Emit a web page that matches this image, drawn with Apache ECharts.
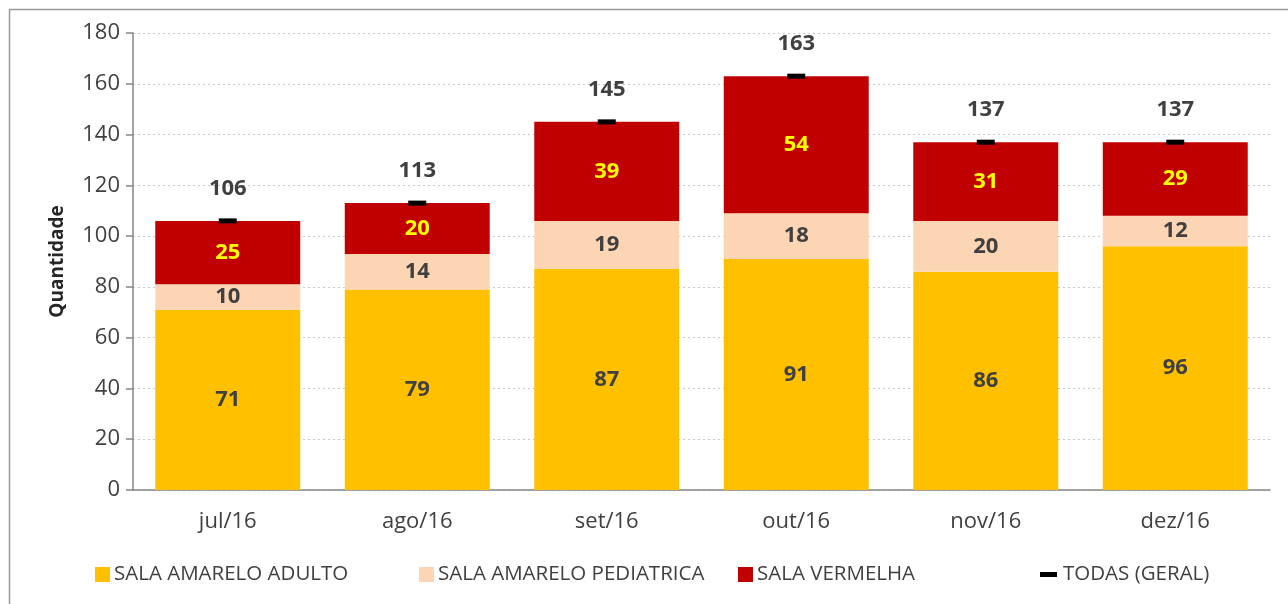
<!DOCTYPE html>
<html>
<head>
<meta charset="utf-8">
<script src="https://cdn.jsdelivr.net/npm/echarts@6/dist/echarts.min.js"></script>
<style>html,body{margin:0;padding:0;background:#fff}#c{width:1288px;height:604px}</style>
</head>
<body>
<div id="c"></div>
<script>
const categories = ['jul/16','ago/16','set/16','out/16','nov/16','dez/16'];
const adulto = [71,79,87,91,86,96];
const pediatrica = [10,14,19,18,20,12];
const vermelha = [25,20,39,54,31,29];
const geral = [106,113,145,163,137,137];
const seriesNames = ['SALA AMARELO ADULTO','SALA AMARELO PEDIATRICA','SALA VERMELHA','TODAS (GERAL)'];

const FONT = '"Open Sans", "Noto Sans", sans-serif';
const TXT = '#404040';
const FS = 22;
const chart = echarts.init(document.getElementById('c'));
const legendBase = {
  top: 559, itemWidth: 15, itemHeight: 15, itemGap: 6,
  textStyle: {fontFamily: FONT, fontSize: 20.5, color: TXT, padding: [0,0,0,-1]}
};
chart.setOption({
  animation: false,
  textStyle: {fontFamily: FONT},
  graphic: [{
    type: 'rect', left: 7, top: 7, shape: {width: 1300, height: 700},
    style: {fill: 'none', stroke: '#9a9a9a', lineWidth: 1.5}, silent: true
  }],
  grid: {left: 133, right: 18, top: 33, bottom: 114},
  legend: [
    Object.assign({}, legendBase, {left: 90, data: [{name: seriesNames[0], icon: 'rect'}]}),
    Object.assign({}, legendBase, {left: 414, data: [{name: seriesNames[1], icon: 'rect'}]}),
    Object.assign({}, legendBase, {left: 733, data: [{name: seriesNames[2], icon: 'rect'}]}),
    Object.assign({}, legendBase, {left: 1035, itemWidth: 17, itemHeight: 5, data: [{name: seriesNames[3], icon: 'rect'}], textStyle: {fontFamily: FONT, fontSize: 20.5, color: TXT, padding: [0,0,0,1]}})
  ],
  xAxis: {
    type: 'category', data: categories,
    axisLine: {lineStyle: {color: '#868686', width: 1.5}},
    axisTick: {length: 8, lineStyle: {color: '#868686', width: 1.5}},
    axisLabel: {fontSize: FS, color: TXT, margin: 21, fontFamily: FONT}
  },
  yAxis: {
    type: 'value', min: 0, max: 180, interval: 20,
    name: 'Quantidade', nameLocation: 'middle', nameGap: 66, nameRotate: 90,
    nameTextStyle: {fontSize: 19, fontWeight: 'bold', color: '#262626', fontFamily: FONT},
    axisLine: {show: true, lineStyle: {color: '#868686', width: 1.5}},
    axisTick: {show: true, length: 7, lineStyle: {color: '#868686', width: 1.5}},
    axisLabel: {fontSize: FS, color: TXT, margin: 13, fontFamily: FONT},
    splitLine: {lineStyle: {color: '#c8c8c8', type: [2,3], width: 1}}
  },
  series: [
    {name: seriesNames[0], type: 'bar', stack: 's', data: adulto, barCategoryGap: '23.5%',
     itemStyle: {color: '#FFC000'},
     label: {show: true, position: 'inside', fontSize: FS, fontWeight: 'bold', color: TXT, fontFamily: FONT}},
    {name: seriesNames[1], type: 'bar', stack: 's', data: pediatrica,
     itemStyle: {color: '#FCD5B4'},
     label: {show: true, position: 'inside', fontSize: FS, fontWeight: 'bold', color: TXT, fontFamily: FONT}},
    {name: seriesNames[2], type: 'bar', stack: 's', data: vermelha,
     itemStyle: {color: '#C00000'},
     label: {show: true, position: 'inside', fontSize: FS, fontWeight: 'bold', color: '#FFFF00', fontFamily: FONT}},
    {name: seriesNames[3], type: 'line', data: geral, symbol: 'rect', symbolSize: [18,5],
     lineStyle: {width: 0, opacity: 0}, itemStyle: {color: '#000'},
     label: {show: true, position: 'top', distance: 19, fontSize: FS, fontWeight: 'bold', color: TXT, fontFamily: FONT}, z: 5}
  ]
});
</script>
</body>
</html>
